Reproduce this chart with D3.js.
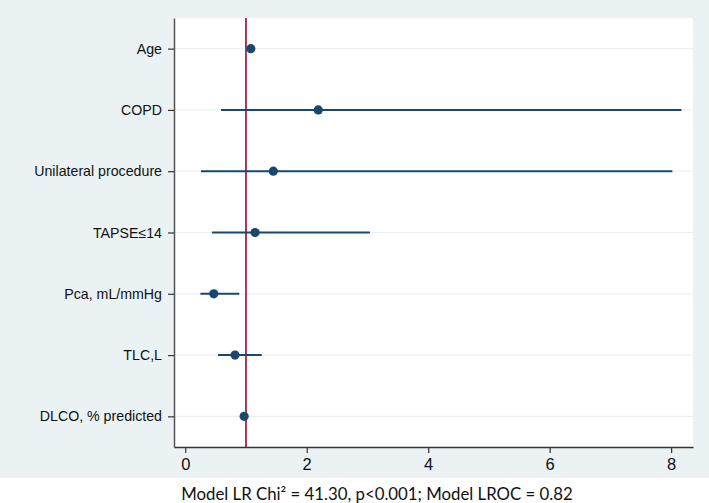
<!DOCTYPE html>
<html>
<head>
<meta charset="utf-8">
<script src="https://cdn.jsdelivr.net/npm/d3@7"></script>
<style>
  body { margin: 0; background: #fff; }
  svg { display: block; }
</style>
</head>
<body>
<svg id="chart" width="709" height="503"></svg>
<script>
const labels = ["Age", "COPD", "Unilateral procedure", "TAPSE\u226414", "Pca, mL/mmHg", "TLC,L", "DLCO, % predicted"];
const estimates = [1.08, 2.19, 1.45, 1.15, 0.47, 0.82, 0.97];
const lower = [1.05, 0.59, 0.26, 0.44, 0.25, 0.54, 0.95];
const upper = [1.11, 8.17, 8.02, 3.04, 0.89, 1.26, 0.99];
const xTicks = [0, 2, 4, 6, 8];
const refValue = 1;
const caption = "Model LR Chi\u00b2 = 41.30, p<0.001; Model LROC = 0.82";

const svg = d3.select("#chart");
const width = 709, height = 503;
const margin = { top: 18, right: 16, bottom: 56, left: 174 };
const navy = "#1a476f";

// outer stata-ish background
svg.append("rect")
  .attr("width", width)
  .attr("height", 478)
  .attr("fill", "#eaf2f3");

const x = d3.scaleLinear()
  .domain([-0.185, 8.36])
  .range([margin.left, width - margin.right]);

const y = d3.scalePoint()
  .domain(labels)
  .range([margin.top, height - margin.bottom])
  .padding(0.5);

svg.append("rect")
  .attr("x", margin.left)
  .attr("y", margin.top)
  .attr("width", width - margin.right - margin.left)
  .attr("height", height - margin.bottom - margin.top)
  .attr("fill", "#fff");

// gridlines
svg.append("g")
  .selectAll("line")
  .data(labels)
  .join("line")
  .attr("x1", margin.left)
  .attr("x2", width - margin.right)
  .attr("y1", d => y(d))
  .attr("y2", d => y(d))
  .attr("stroke", "#eaf0f2")
  .attr("stroke-width", 1.2);

// reference line at 1
svg.append("line")
  .attr("x1", x(refValue))
  .attr("x2", x(refValue))
  .attr("y1", margin.top)
  .attr("y2", height - margin.bottom)
  .attr("stroke", "#a3234b")
  .attr("stroke-width", 1.8);

const rows = labels.map((d, i) => ({ label: d, est: estimates[i], lo: lower[i], hi: upper[i] }));

svg.append("g")
  .selectAll("line")
  .data(rows)
  .join("line")
  .attr("x1", d => x(d.lo))
  .attr("x2", d => x(d.hi))
  .attr("y1", d => y(d.label))
  .attr("y2", d => y(d.label))
  .attr("stroke", navy)
  .attr("stroke-width", 2);

svg.append("g")
  .selectAll("circle")
  .data(rows)
  .join("circle")
  .attr("cx", d => x(d.est))
  .attr("cy", d => y(d.label))
  .attr("r", 4.6)
  .attr("fill", navy);

// axes
const xAxis = svg.append("g")
  .attr("transform", `translate(0,${height - margin.bottom})`)
  .call(d3.axisBottom(x).tickValues(xTicks).tickSize(6).tickPadding(5).tickSizeOuter(0));
xAxis.select(".domain").attr("stroke", "#333").attr("stroke-width", 1.3);
xAxis.selectAll(".tick line").attr("stroke", "#333").attr("stroke-width", 1.2);
xAxis.selectAll(".tick text")
  .attr("font-family", "Liberation Sans, Arial, sans-serif")
  .attr("font-size", 16.5)
  .attr("fill", "#111");

const yAxis = svg.append("g")
  .attr("transform", `translate(${margin.left},0)`)
  .call(d3.axisLeft(y).tickSize(6).tickPadding(6).tickSizeOuter(0));
yAxis.select(".domain").attr("stroke", "#555").attr("stroke-width", 1.5);
yAxis.selectAll(".tick line").attr("stroke", "#333").attr("stroke-width", 1.2);
yAxis.selectAll(".tick text")
  .attr("font-family", "Liberation Sans, Arial, sans-serif")
  .attr("font-size", 14.2)
  .attr("fill", "#111");

svg.append("text")
  .attr("x", 377)
  .attr("y", 500)
  .attr("text-anchor", "middle")
  .attr("font-family", "Lato, 'Open Sans', sans-serif")
  .attr("font-size", 16.8)
  .attr("fill", "#111")
  .text(caption);
</script>
</body>
</html>
